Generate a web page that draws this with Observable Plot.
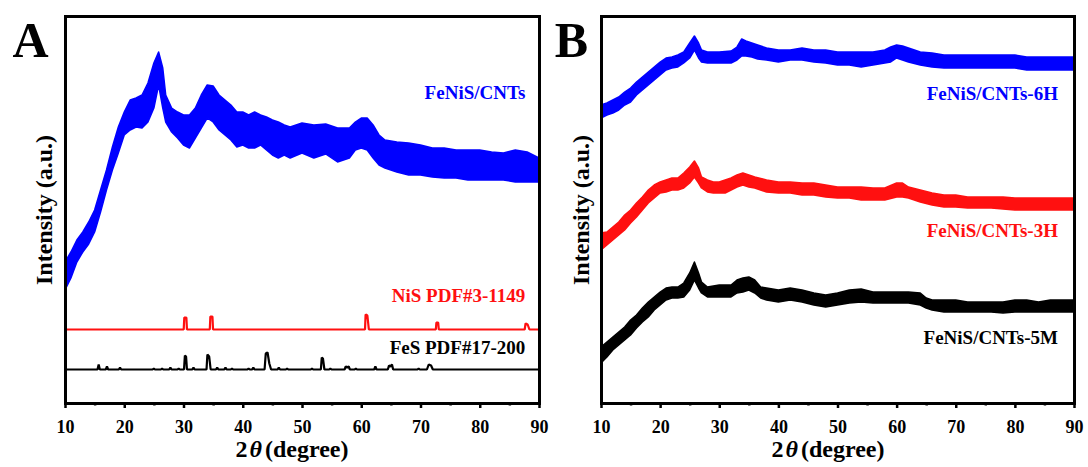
<!DOCTYPE html>
<html><head><meta charset="utf-8">
<script src="https://cdn.jsdelivr.net/npm/d3@7"></script>
<script src="https://cdn.jsdelivr.net/npm/@observablehq/plot@0.6"></script>
<style>
body{margin:0;background:#fff;}
#wrap{position:relative;width:1088px;height:467px;font-family:"Liberation Serif","Times New Roman",serif;}
.panel{position:absolute;top:0;width:544px;}
.xt{position:absolute;top:434px;font-size:24px;font-weight:bold;white-space:nowrap;transform:translateX(-50%);line-height:30px;color:#000;}
.xt i{font-weight:bold;margin:0 3px 0 2px;}
</style></head><body><div id="wrap"></div>
<script>
// ---------- data (2θ in degrees, intensity in a.u.) ----------
// noisy XRD traces: [2θ, lower edge of noise band, upper edge of noise band]
const feNiS_A = [
 [10,113,141],[11,125,151],[12,141,163],[13,151,171],[14,159,181],[15,171,193],[16,191,213],[17,213,233],
 [18,233,256],[19,250,276],[20,268,291],[21,273,303],[22,276,305],[23,275,308],[24,281,320],[25,295,340],
 [25.8,318,351],[26.5,295,335],[27,281,308],[28,271,295],[29,265,291],[30,258,288],[31,255,288],[32,265,295],
 [33,275,308],[34,285,318],[35,281,317],[36,273,308],[37,268,303],[38,263,298],[39,256,291],[40,258,291],
 [41,255,288],[42,255,291],[43,258,288],[44,253,286],[45,248,283],[46,245,281],[47,248,278],[48,245,276],
 [50,250,280],[52,245,278],[54,249,279],[56,241,275],[58,245,275],[59,253,281],[60,255,285],[61,253,285],
 [62,245,278],[63,238,268],[64,235,263],[66,231,261],[68,228,260],[70,228,258],[72,226,255],[74,225,255],
 [76,225,253],[78,223,253],[80,223,253],[82,223,251],[84,223,250],[86,221,253],[88,221,251],[90,221,245]
];
const feNiS_6H = [
 [10,285,298],[11,288,300],[12,290,303],[13,293,306],[14,298,311],[15,301,315],[16,308,321],[17,313,326],
 [18,318,331],[19,323,336],[20,328,341],[21,333,345],[22,335,346],[23,336,348],[24,340,351],[25,345,360],
 [25.8,353,367],[26.5,345,360],[27,341,353],[28,340,351],[30,340,351],[32,340,352],[33,343,356],[33.8,347,364],
 [34.5,347,362],[35.5,346,360],[36.5,344,358],[38,343,355],[40,341,353],[42,343,353],[44,343,355],[46,341,353],[48,340,353],
 [50,338,351],[52,338,351],[54,336,351],[56,338,351],[58,340,353],[59,341,356],[60,345,358],[61,343,357],
 [62,341,355],[64,338,351],[66,336,350],[68,335,348],[70,335,348],[72,335,348],[74,335,348],[76,335,348],
 [78,335,348],[80,335,348],[82,333,346],[84,333,346],[86,333,346],[88,333,346],[90,333,346]
];
const feNiS_3H = [
 [10,153,170],[11,158,171],[12,163,176],[13,168,181],[14,173,188],[15,180,193],[16,186,200],[17,193,206],
 [18,200,213],[19,205,218],[20,210,221],[21,211,223],[22,213,225],[23,213,225],[24,215,230],[25,220,236],
 [25.8,226,242],[26.5,220,235],[27,215,226],[28,211,223],[29,210,221],[30,210,221],[31,210,223],[32,213,225],
 [33,216,228],[34,218,230],[35,216,228],[36,215,226],[38,211,223],[40,210,221],[42,210,221],[44,208,220],
 [46,208,220],[48,206,218],[50,205,216],[52,205,216],[54,203,216],[56,203,215],[58,203,215],[60,206,220],
 [61,206,220],[62,205,216],[64,201,213],[66,198,210],[68,196,208],[70,196,208],[72,195,206],[74,195,206],
 [76,195,206],[78,194,206],[80,193,205],[82,193,205],[84,193,205],[86,193,205],[88,193,205],[90,193,205]
];
const feNiS_5M = [
 [10,40,56],[11,46,61],[12,53,66],[13,58,71],[14,63,76],[15,68,83],[16,75,88],[17,81,95],
 [18,86,101],[19,93,106],[20,98,111],[21,103,115],[22,105,116],[23,105,116],[24,106,120],[25,113,130],
 [25.8,123,141],[26.5,115,130],[27,110,121],[28,106,116],[30,106,118],[32,106,118],[33,110,123],[34,111,125],
 [35,113,126],[36,110,123],[37,105,116],[38,103,115],[40,101,113],[42,103,115],[44,101,113],[46,98,110],
 [48,96,108],[50,98,110],[52,100,113],[54,101,114],[56,100,111],[58,100,111],[60,100,111],[62,100,111],
 [64,98,110],[65,95,105],[66,93,103],[68,91,103],[70,91,103],[72,91,101],[74,91,101],[76,91,101],
 [78,90,101],[80,91,103],[82,91,103],[84,91,101],[86,91,103],[88,91,103],[90,91,103]
];
// reference patterns: [2θ, intensity]
const nisPDF = [
 [10,74],[29.95,74],[30.05,86],[30.4,86],[30.5,74],[34.35,74],[34.45,87],[34.8,87],[34.9,74],
 [60.55,74],[60.65,89],[60.95,88],[61.2,74],[72.5,74],[72.6,81],[72.9,81],[73.0,74],
 [87.5,74],[87.65,80],[88.0,79],[88.3,74],[90,74]
];
const fesPDF = [
 [10,34],[15.4,34],[15.6,39],[15.8,34],[16.8,34],[17.0,37],[17.2,34],[19.0,34],[19.2,36],[19.4,34],
 [24.7,34],[24.9,35],[25.1,34],[26.1,34],[26.3,35],[26.5,34],[27.5,34],[27.7,36],[27.9,34],
 [28.9,34],[29.1,35],[29.3,34],[30.0,34],[30.15,48],[30.35,47],[30.5,34],[31.4,34],[31.6,36],[31.8,34],
 [33.8,34],[33.95,49],[34.25,47],[34.5,34],[35.4,34],[35.6,36],[35.8,34],[36.8,34],[37.0,36],[37.2,34],
 [37.9,34],[38.1,35],[38.3,34],[40.7,34],[40.9,35],[41.1,34],[41.5,34],[41.7,36],[41.9,34],
 [43.6,34],[43.8,50],[44.1,51],[44.4,40],[44.7,34],[45.8,34],[46.0,36],[46.2,34],[47.2,34],[47.4,35],[47.6,34],
 [51.4,34],[51.6,35],[51.8,34],[53.1,34],[53.25,46],[53.45,45],[53.7,34],[54.5,34],[54.7,35],[54.9,34],
 [57.1,34],[57.3,37],[57.55,36],[57.8,37],[58.0,34],[58.8,34],[59.0,35],[59.2,34],[62.1,34],[62.3,37],[62.5,34],
 [64.4,34],[64.6,38],[64.85,37],[65.1,39],[65.3,34],[69.4,34],[69.6,35],[69.8,34],
 [71.0,34],[71.3,39],[71.7,38],[72.0,34],[90,34]
];
const xTicks = [10,20,30,40,50,60,70,80,90];
const xMinorTicks = [15,25,35,45,55,65,75,85];
const labelsA = ["FeNiS/CNTs","NiS PDF#3-1149","FeS PDF#17-200"];
const labelsB = ["FeNiS/CNTs-6H","FeNiS/CNTs-3H","FeNiS/CNTs-5M"];
const yTitle = "Intensity (a.u.)";
const panelLetters = ["A","B"];

// ---------- drawing ----------
const BLUE = "#0000ff", RED = "#ff1010", BLACK = "#000";
const FONT = "Liberation Serif";
const toRows = arr => arr.map(([t, lo, hi]) => ({t, lo, hi}));
const toPts = arr => arr.map(([t, v]) => ({t, v}));

function band(arr, color) {
  return Plot.areaY(toRows(arr), {x: "t", y1: "lo", y2: "hi", fill: color, stroke: color, strokeWidth: 1.5});
}
function stick(arr, color) {
  return Plot.line(toPts(arr), {x: "t", y: "v", stroke: color, strokeWidth: 2.2, strokeLinejoin: "miter"});
}

function makePanel({ml, mr, marks, letter, letterDx, yDx}) {
  return Plot.plot({
    width: 544, height: 440,
    marginTop: 16, marginBottom: 37, marginLeft: ml, marginRight: mr,
    x: {domain: [10, 90]},
    y: {domain: [0, 387], axis: null},
    style: {fontFamily: FONT, fontWeight: "bold", background: "transparent", overflow: "visible", color: "#000"},
    marks: [
      ...marks,
      Plot.frame({stroke: "#000", strokeWidth: 3}),
      Plot.axisX({ticks: xTicks, tickSize: 5, tickPadding: 12, strokeWidth: 2.5, fontSize: 18, fontWeight: "bold", label: null}),
      Plot.axisX({ticks: xMinorTicks, tickSize: 2.5, strokeWidth: 2.5, tickFormat: () => "", label: null}),
      Plot.text([yTitle], {text: d => d, frameAnchor: "left", rotate: -90, dx: yDx, textAnchor: "middle", lineAnchor: "middle", fontSize: 24, fontWeight: "bold"}),
      Plot.text([letter], {text: d => d, frameAnchor: "top-left", dx: letterDx, dy: 24, textAnchor: "middle", lineAnchor: "middle", fontSize: 50, fontWeight: "bold"})
    ]
  });
}

const panelA = makePanel({
  ml: 65, mr: 5, letter: panelLetters[0], letterDx: -35, yDx: -21,
  marks: [
    band(feNiS_A, BLUE),
    stick(nisPDF, RED),
    stick(fesPDF, BLACK),
    Plot.text([labelsA[0]], {text: d => d, x: 87.6, y: 311, fill: BLUE, textAnchor: "end", lineAnchor: "middle", fontSize: 19}),
    Plot.text([labelsA[1]], {text: d => d, x: 87.6, y: 108, fill: RED, textAnchor: "end", lineAnchor: "middle", fontSize: 19}),
    Plot.text([labelsA[2]], {text: d => d, x: 87.6, y: 56, fill: BLACK, textAnchor: "end", lineAnchor: "middle", fontSize: 19})
  ]
});
const panelB = makePanel({
  ml: 57, mr: 14, letter: panelLetters[1], letterDx: -30, yDx: -20,
  marks: [
    band(feNiS_6H, BLUE),
    band(feNiS_3H, RED),
    band(feNiS_5M, BLACK),
    Plot.text([labelsB[0]], {text: d => d, x: 87.2, y: 310, fill: BLUE, textAnchor: "end", lineAnchor: "middle", fontSize: 19}),
    Plot.text([labelsB[1]], {text: d => d, x: 87.2, y: 173, fill: RED, textAnchor: "end", lineAnchor: "middle", fontSize: 19}),
    Plot.text([labelsB[2]], {text: d => d, x: 87.2, y: 66, fill: BLACK, textAnchor: "end", lineAnchor: "middle", fontSize: 19})
  ]
});

const wrap = document.getElementById("wrap");
[[panelA, 0], [panelB, 544]].forEach(([svg, left]) => {
  const d = document.createElement("div");
  d.className = "panel";
  d.style.left = left + "px";
  d.appendChild(svg);
  wrap.appendChild(d);
});
[[292], [828]].forEach(([cx]) => {
  const t = document.createElement("div");
  t.className = "xt";
  t.style.left = cx + "px";
  t.innerHTML = "2<i>θ</i>(degree)";
  wrap.appendChild(t);
});
</script></body></html>
